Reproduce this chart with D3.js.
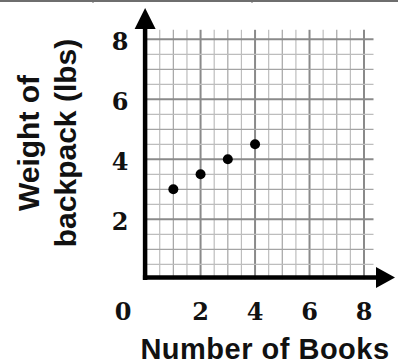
<!DOCTYPE html>
<html><head><meta charset="utf-8">
<script src="https://cdn.jsdelivr.net/npm/d3@7"></script>
<style>html,body{margin:0;padding:0;background:#fff;}svg{display:block;}</style>
</head><body>
<script>
// Data
const books = [1, 2, 3, 4];
const weights = [3, 3.5, 4, 4.5];
const xTicks = [0, 2, 4, 6, 8];
const yTicks = [2, 4, 6, 8];
const xTitle = "Number of Books";
const yTitleLines = ["Weight of", "backpack (lbs)"];

const W = 398, H = 364;
const svg = d3.select("body").append("svg").attr("width", W).attr("height", H);

const x = d3.scaleLinear().domain([0, 8]).range([146.1, 364]);
const y = d3.scaleLinear().domain([0, 8]).range([279.3, 39.3]);

// top border remnant
svg.append("rect").attr("x", 0).attr("y", 0).attr("width", W).attr("height", 2).attr("fill", "#6e6e6e");
[93, 252].forEach(px => svg.append("rect").attr("x", px - 0.5).attr("y", 0).attr("width", 1).attr("height", 3).attr("fill", "#6e6e6e"));

// grid
const half = d3.range(1, 17).map(d => d / 2);
function gStyle(v) {
  if (v % 2 === 0) return {c: "#8a8a8a", w: 2};
  if (v % 1 === 0) return {c: "#a4a4a4", w: 1.2};
  return {c: "#bdbdbd", w: 1.2};
}
const grid = svg.append("g");
half.forEach(v => {
  const s = gStyle(v);
  grid.append("line").attr("x1", x(v)).attr("x2", x(v)).attr("y1", y(8) - 9.5).attr("y2", y(0))
    .attr("stroke", s.c).attr("stroke-width", s.w);
});
half.forEach(v => {
  const s = gStyle(v);
  grid.append("line").attr("x1", x(0)).attr("x2", x(8) + 9.5).attr("y1", y(v)).attr("y2", y(v))
    .attr("stroke", s.c).attr("stroke-width", s.w);
});

// axes
const ax0 = x(0) - 1, ay0 = y(0) - 1.8;
svg.append("line").attr("x1", ax0).attr("x2", ax0).attr("y1", ay0 + 2.5).attr("y2", 26)
  .attr("stroke", "#000").attr("stroke-width", 4.5);
svg.append("line").attr("x1", ax0 - 2.2).attr("x2", 379).attr("y1", ay0).attr("y2", ay0)
  .attr("stroke", "#000").attr("stroke-width", 4.5);
svg.append("path").attr("d", `M${ax0},8 L${ax0 + 10.5},29 L${ax0 - 10.5},29 Z`).attr("fill", "#000");
svg.append("path").attr("d", `M395,${ay0} L376,${ay0 - 10.5} L376,${ay0 + 10.5} Z`).attr("fill", "#000");

// tick labels
const tickFont = "'DejaVu Serif', serif";
svg.append("g").selectAll("text").data(yTicks).join("text")
  .attr("x", 120).attr("y", d => y(d) + 2).attr("text-anchor", "middle").attr("dominant-baseline", "central")
  .attr("font-family", tickFont).attr("font-weight", "bold").attr("font-size", 24).attr("fill", "#111")
  .text(d => d);
svg.append("g").selectAll("text").data(xTicks).join("text")
  .attr("x", d => d === 0 ? 123 : x(d)).attr("y", 311).attr("text-anchor", "middle").attr("dominant-baseline", "central")
  .attr("font-family", tickFont).attr("font-weight", "bold").attr("font-size", 24).attr("fill", "#111")
  .text(d => d);

// points
svg.append("g").selectAll("circle").data(books).join("circle")
  .attr("cx", (d, i) => x(d)).attr("cy", (d, i) => y(weights[i])).attr("r", 5).attr("fill", "#000");

// titles
const titleFont = "'Liberation Sans', Arial, sans-serif";
svg.append("text").attr("x", 265).attr("y", 359).attr("text-anchor", "middle")
  .attr("font-family", titleFont).attr("font-weight", "bold").attr("font-size", 29)
  .attr("letter-spacing", 0.5).attr("fill", "#111")
  .text(xTitle);
const yt = svg.append("text").attr("transform", "translate(0,143) rotate(-90)")
  .attr("text-anchor", "middle").attr("font-family", titleFont).attr("font-weight", "bold")
  .attr("font-size", 30).attr("fill", "#111");
yTitleLines.forEach((l, i) => yt.append("tspan").attr("x", 0).attr("y", i === 0 ? 39 : 76).text(l));
</script>
</body></html>
